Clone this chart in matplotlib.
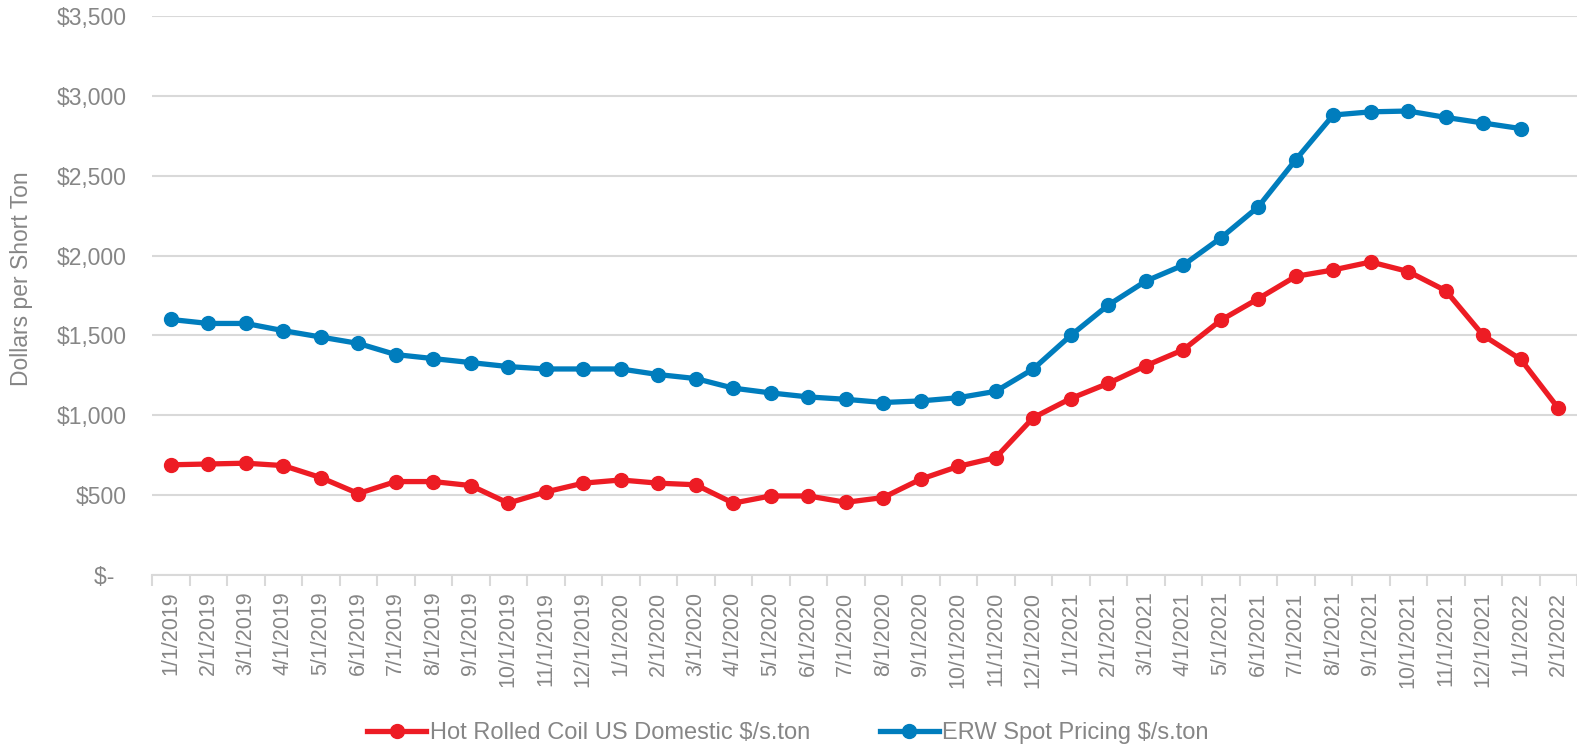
import matplotlib
matplotlib.use("Agg")
import matplotlib.pyplot as plt
from matplotlib.ticker import FixedLocator, FuncFormatter

plt.rcParams["font.family"] = ["Liberation Sans", "DejaVu Sans"]

months = [
    "1/1/2019", "2/1/2019", "3/1/2019", "4/1/2019", "5/1/2019", "6/1/2019",
    "7/1/2019", "8/1/2019", "9/1/2019", "10/1/2019", "11/1/2019", "12/1/2019",
    "1/1/2020", "2/1/2020", "3/1/2020", "4/1/2020", "5/1/2020", "6/1/2020",
    "7/1/2020", "8/1/2020", "9/1/2020", "10/1/2020", "11/1/2020", "12/1/2020",
    "1/1/2021", "2/1/2021", "3/1/2021", "4/1/2021", "5/1/2021", "6/1/2021",
    "7/1/2021", "8/1/2021", "9/1/2021", "10/1/2021", "11/1/2021", "12/1/2021",
    "1/1/2022", "2/1/2022",
]

hrc = [
    690, 695, 700, 685, 610, 510, 585, 585, 560, 450, 520, 575,
    595, 575, 565, 450, 495, 495, 455, 485, 600, 680, 735, 985,
    1105, 1200, 1310, 1410, 1595, 1730, 1870, 1910, 1960, 1900, 1780, 1500,
    1350, 1045,
]

# ERW series stops at 1/1/2022
erw = [
    1600, 1575, 1575, 1530, 1490, 1450, 1380, 1355, 1330, 1305, 1290, 1290,
    1290, 1255, 1230, 1170, 1140, 1115, 1100, 1080, 1090, 1110, 1150, 1290,
    1500, 1690, 1840, 1940, 2110, 2305, 2600, 2880, 2900, 2905, 2865, 2830,
    2795,
]

RED = "#ED1C24"
BLUE = "#007DBD"
TEXT = "#868686"
GRID = "#D9D9D9"

fig = plt.figure(figsize=(15.77, 7.52), dpi=100)
ax = fig.add_axes([152 / 1577, 1 - 575 / 752, 1425 / 1577, (575 - 16) / 752])

ax.plot(range(len(hrc)), hrc, color=RED, lw=3.8, marker="o", ms=10,
        label="Hot Rolled Coil US Domestic $/s.ton", zorder=3)
ax.plot(range(len(erw)), erw, color=BLUE, lw=3.8, marker="o", ms=10,
        label="ERW Spot Pricing $/s.ton", zorder=3)

ax.set_xlim(-0.5, len(months) - 0.5)
ax.set_ylim(0, 3500)
ax.set_yticks(range(0, 3501, 500))
ax.yaxis.set_major_formatter(FuncFormatter(lambda v, p: "$-  " if v == 0 else f"${v:,.0f}"))
ax.grid(axis="y", color=GRID, lw=1.5)
ax.set_axisbelow(True)

ax.set_xticks(range(len(months)))
ax.set_xticklabels(months, rotation=90)
ax.xaxis.set_minor_locator(FixedLocator([i - 0.5 for i in range(len(months) + 1)]))
ax.tick_params(axis="x", which="major", length=0, pad=12, labelsize=15.5, labelcolor=TEXT)
ax.tick_params(axis="x", which="minor", length=8, width=1.5, color=GRID)
ax.tick_params(axis="y", length=0, pad=18, labelsize=16.5, labelcolor=TEXT)

for side in ["top", "right", "left"]:
    ax.spines[side].set_visible(False)
ax.spines["bottom"].set_color(GRID)
ax.spines["bottom"].set_linewidth(1.5)

fig.text(22 / 1577, 1 - 279 / 752, "Dollars per Short Ton", rotation=90,
         ha="center", va="center", fontsize=16.5, color=TEXT)

leg = fig.legend(loc="center", bbox_to_anchor=(788 / 1577, 1 - 733 / 752),
                 ncol=2, frameon=False, fontsize=17, handlelength=2.5,
                 handletextpad=0.15, columnspacing=2.95)
for t in leg.get_texts():
    t.set_color(TEXT)

fig.savefig("out.png", dpi=100)
